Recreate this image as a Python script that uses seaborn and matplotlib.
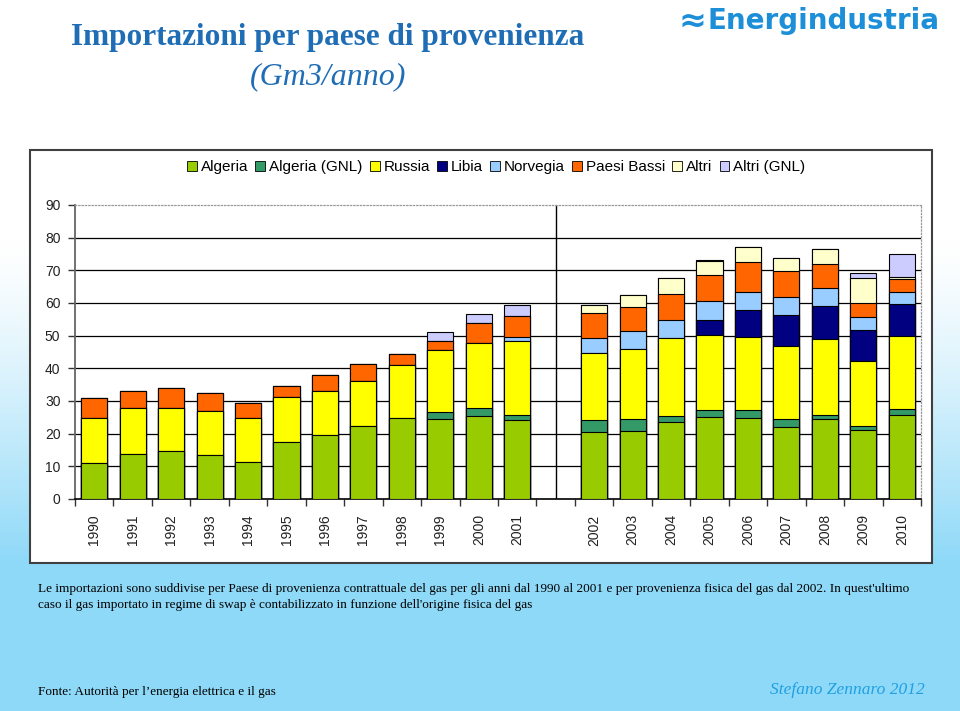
import numpy as np
import pandas as pd
import seaborn as sns
import matplotlib.pyplot as plt
from matplotlib.patches import Patch, Rectangle
from matplotlib.ticker import FixedLocator

# import per paese (Gm3/anno)
years = [str(y) for y in range(1990, 2011)]
algeria =       [11.0, 13.9, 14.6, 13.6, 11.3, 17.6, 19.7, 22.3, 24.9, 24.4, 25.5, 24.1,
                 20.4, 20.7, 23.6, 25.1, 24.8, 22.0, 24.5, 21.2, 25.8]
algeria_gnl =   [0, 0, 0, 0, 0, 0, 0, 0, 0, 2.2, 2.4, 1.7,
                 3.7, 3.9, 1.9, 2.2, 2.3, 2.5, 1.3, 1.0, 1.9]
russia =        [13.7, 14.1, 13.4, 13.4, 13.4, 13.7, 13.4, 13.7, 16.0, 19.1, 19.9, 22.5,
                 20.6, 21.4, 23.8, 23.0, 22.5, 22.2, 23.3, 19.9, 22.3]
libia =         [0, 0, 0, 0, 0, 0, 0, 0, 0, 0, 0, 0,
                 0, 0, 0, 4.6, 8.3, 9.7, 10.1, 9.5, 9.8]
norvegia =      [0, 0, 0, 0, 0, 0, 0, 0, 0, 0, 0, 1.3,
                 4.6, 5.3, 5.6, 5.8, 5.4, 5.3, 5.4, 4.0, 3.5]
paesi_bassi =   [6.3, 5.2, 5.9, 5.5, 4.7, 3.3, 4.8, 5.2, 3.5, 2.8, 6.1, 6.3,
                 7.6, 7.5, 7.9, 8.0, 9.3, 8.0, 7.4, 4.4, 4.1]
altri =         [0, 0, 0, 0, 0, 0, 0, 0, 0, 0, 0, 0,
                 2.4, 3.8, 4.9, 4.3, 4.4, 4.0, 4.5, 7.7, 0.5]
altri_gnl =     [0, 0, 0, 0, 0, 0, 0, 0, 0, 2.7, 2.8, 3.4,
                 0, 0, 0, 0.3, 0, 0, 0, 1.5, 7.2]

series_names = ["Algeria", "Algeria (GNL)", "Russia", "Libia", "Norvegia",
                "Paesi Bassi", "Altri", "Altri (GNL)"]
series_colors = ["#99CC00", "#339966", "#FFFF00", "#000080", "#99CCFF",
                 "#FF6600", "#FFFFCC", "#CCCCFF"]

# categoria vuota tra 2001 e 2002 (cambio di criterio)
order = years[:12] + [" "] + years[12:]

df = pd.DataFrame(dict(zip(series_names, [algeria, algeria_gnl, russia, libia, norvegia,
                                          paesi_bassi, altri, altri_gnl])), index=years)
cum = df.cumsum(axis=1)
cum.index.name = "Anno"
cum = cum.reset_index()

W, H = 960, 711
fig = plt.figure(figsize=(9.6, 7.11), dpi=100)

# sfondo: bianco in alto, azzurro in basso
rows = np.arange(H)
t = np.clip((rows - 240) / (560 - 240), 0, 1) ** 1.3
top_c = np.array([1.0, 1.0, 1.0])
bot_c = np.array([0x8F, 0xD9, 0xF8]) / 255
grad = top_c[None, :] * (1 - t[:, None]) + bot_c[None, :] * t[:, None]
grad[565:] = bot_c
bg = fig.add_axes([0, 0, 1, 1], zorder=-10)
bg.imshow(grad[:, None, :], aspect="auto", extent=[0, 1, 0, 1])
bg.axis("off")

# riquadro bianco del grafico
fig.add_artist(Rectangle((30 / W, 1 - 563 / H), 902 / W, 413 / H, transform=fig.transFigure,
                         facecolor="white", edgecolor="#404040", lw=1.5, zorder=-5))

ax = fig.add_axes([75 / W, 1 - 499 / H, 846 / W, 294 / H])
ax.set_facecolor("white")

# barre impilate: somme cumulate disegnate dall'alto verso il basso
for name, color in reversed(list(zip(series_names, series_colors))):
    sns.barplot(data=cum, x="Anno", y=name, order=order, color=color, saturation=1,
                width=0.68, edgecolor="black", linewidth=0.8, errorbar=None, ax=ax, zorder=3)

ax.set_xlim(-0.5, len(order) - 0.5)
ax.set_ylim(0, 90)
ax.set(xlabel=None, ylabel=None)

yt = list(range(0, 100, 10))
ax.set_yticks(yt)
for v in yt[1:-1]:
    ax.axhline(v, color="black", lw=0.9, zorder=1)
ax.axvline(order.index(" "), color="black", lw=1.0, zorder=2)

ax.set_xticks(range(len(order)), labels=order, rotation=90)
ax.xaxis.set_minor_locator(FixedLocator(np.arange(-0.5, len(order), 1)))
ax.tick_params(axis="x", which="major", length=0, pad=11, labelsize=10, labelcolor="#222222")
ax.tick_params(axis="x", which="minor", length=5, width=1, color="#333333")
ax.tick_params(axis="y", length=5, width=1, pad=5.5, labelsize=10, color="#333333",
               labelcolor="#222222")
for lab in ax.get_xticklabels() + ax.get_yticklabels():
    lab.set_family("Liberation Sans")

ax.spines["left"].set_color("#666666")
ax.spines["left"].set_linewidth(1.3)
ax.spines["bottom"].set_color("black")
ax.spines["bottom"].set_linewidth(1.2)
for s in ("top", "right"):
    ax.spines[s].set_color("#999999")
    ax.spines[s].set_linestyle(":")
    ax.spines[s].set_linewidth(0.9)

handles = [Patch(facecolor=c, edgecolor="black", lw=0.6, label=n)
           for n, c in zip(series_names, series_colors)]
fig.legend(handles=handles, loc="center", bbox_to_anchor=(0.517, 1 - 167 / H), ncol=8,
           frameon=False, prop={"family": "Liberation Sans", "size": 11},
           handlelength=0.65, handleheight=0.65, handletextpad=0.26, columnspacing=0.46)

title_c = "#1F6DB5"
fig.text(328 / W, 1 - 38 / H, "Importazioni per paese di provenienza", ha="center", va="center",
         fontsize=22.5, fontweight="bold", family="Liberation Serif", color=title_c)
fig.text(328 / W, 1 - 77 / H, "(Gm3/anno)", ha="center", va="center",
         fontsize=23, style="italic", family="Liberation Serif", color=title_c)

logo_c = "#1C8FD8"
fig.text(678 / W, 1 - 21 / H, "≈", ha="left", va="center", fontsize=24, fontweight="bold",
         family="DejaVu Sans", color=logo_c)
fig.text(940 / W, 1 - 21 / H, "Energindustria", ha="right", va="center", fontsize=20,
         fontweight="bold", family="DejaVu Sans", color=logo_c)

note = ("Le importazioni sono suddivise per Paese di provenienza contrattuale del gas per gli anni "
        "dal 1990 al 2001 e per provenienza fisica del gas dal 2002. In quest'ultimo\n"
        "caso il gas importato in regime di swap è contabilizzato in funzione dell'origine "
        "fisica del gas")
fig.text(38 / W, 1 - 583 / H, note, ha="left", va="top", fontsize=9.5,
         family="Liberation Serif", linespacing=1.45, color="black")
fig.text(38 / W, 1 - 692 / H, "Fonte: Autorità per l’energia elettrica e il gas", ha="left",
         va="center", fontsize=9.5, family="Liberation Serif", color="black")
fig.text(925 / W, 1 - 690 / H, "Stefano Zennaro 2012", ha="right", va="center", fontsize=12.5,
         style="italic", family="Liberation Serif", color="#1FA0E2")

plt.savefig("out.png", dpi=100)
